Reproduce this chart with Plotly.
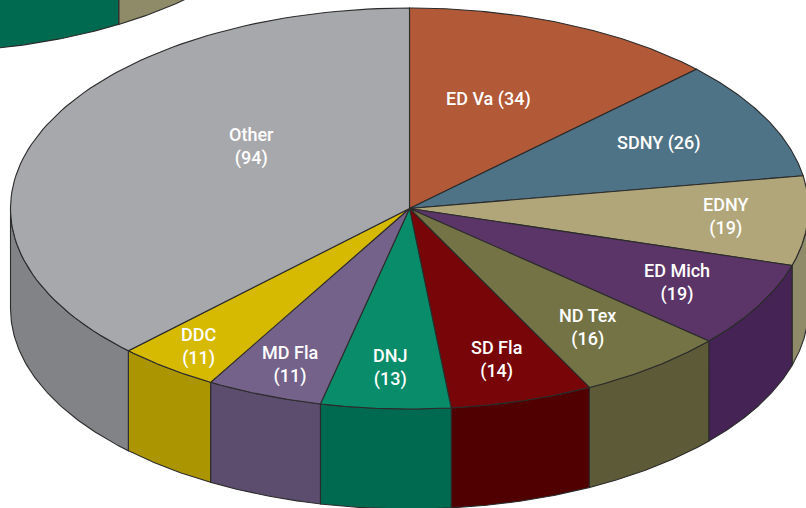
import numpy as np
import plotly.graph_objects as go

# ---- data ----
categories = ["ED Va", "SDNY", "EDNY", "ED Mich", "ND Tex", "SD Fla", "DNJ", "MD Fla", "DDC", "Other"]
counts = [34, 26, 19, 19, 16, 14, 13, 11, 11, 94]
# slice sweeps as drawn in the picture (degrees, clockwise from 12 o'clock)
drawn_sweeps = [46.0, 34.6, 25.9, 24.9, 21.8, 20.8, 18.9, 17.0, 14.9, 135.2]
# the neighbouring pie cropped by the top edge: wall slices (start, end angle)
upper_slices = [(120.0, 149.3), (149.3, 200.0)]

# ---- styles ----
top_colors = ["#b25937", "#4f7386", "#b0a679", "#5b3468", "#747345",
              "#780507", "#088c69", "#75628a", "#d6b901", "#a7a8ab"]
wall_colors = ["#8a4329", "#3c5866", "#8f8a68", "#452354", "#5d5b37",
               "#500000", "#006a50", "#5c4d6e", "#ab9500", "#828387"]
upper_colors = ["#8f8a68", "#006a50"]
edge = "#2b2b2b"
font = "Roboto"
W, H = 806, 508
CX, CY, RX, RY, DEPTH = 409.5, 208.5, 399, 200.5, 100
UPPER_CX, UPPER_CY = -85, -248
# pixel nudges of each label from the slice's 60 % radius point
nudges = [(-15, 1), (36, -11), (77, 1), (58, 16), (32, 24), (19, 36), (-5, 39), (-32, 44), (-65, 42), (63, -16)]
one_line_labels = {"ED Va", "SDNY"}


def arc(a0, a1, cx=CX, cy=CY, n=90):
    t = np.radians(np.linspace(a0, a1, n))
    return cx + RX * np.sin(t), cy - RY * np.cos(t)


def poly(x, y, color):
    return go.Scatter(x=x, y=y, mode="lines", fill="toself", fillcolor=color,
                      line=dict(color=edge, width=1.1), hoverinfo="skip", showlegend=False)


def wall(a0, a1, color, cx=CX, cy=CY):
    x, y = arc(a0, a1, cx, cy)
    return poly(np.r_[x, x[::-1], x[0]], np.r_[y, y[::-1] + DEPTH, y[0]], color)


ends = np.cumsum(drawn_sweeps)
starts = ends - np.array(drawn_sweeps)

fig = go.Figure()
for (a0, a1), c in zip(upper_slices, upper_colors):
    fig.add_trace(wall(a0, a1, c, UPPER_CX, UPPER_CY))

for a0, a1, c in zip(starts, ends, wall_colors):
    lo, hi = max(a0, 90), min(a1, 270)
    if hi > lo:
        fig.add_trace(wall(lo, hi, c))

for a0, a1, c in zip(starts, ends, top_colors):
    x, y = arc(a0, a1)
    fig.add_trace(poly(np.r_[CX, x, CX], np.r_[CY, y, CY], c))

for name, count, a0, a1, (dx, dy) in zip(categories, counts, starts, ends, nudges):
    mid = np.radians((a0 + a1) / 2)
    sep = " " if name in one_line_labels else "<br>"
    fig.add_annotation(x=CX + 0.6 * RX * np.sin(mid), y=CY - 0.6 * RY * np.cos(mid),
                       xshift=dx, yshift=-dy, text=f"{name}{sep}({count})", showarrow=False,
                       font=dict(family=font, size=18, color="white", weight=500), align="center")

fig.update_layout(
    width=W, height=H, margin=dict(l=0, r=0, t=0, b=0),
    paper_bgcolor="white", plot_bgcolor="white", showlegend=False,
    xaxis=dict(range=[0, W], visible=False, fixedrange=True),
    yaxis=dict(range=[H, 0], visible=False, fixedrange=True),
)
fig.write_html("out.html", config={"displayModeBar": False},
               post_script="document.body.style.margin='0';document.body.style.overflow='hidden';")
